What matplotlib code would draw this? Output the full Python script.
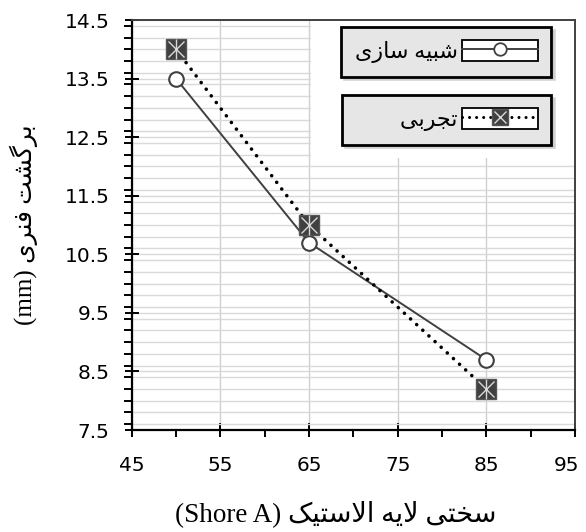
import matplotlib
matplotlib.use("Agg")
import matplotlib.pyplot as plt
from matplotlib.patches import Rectangle
from matplotlib.lines import Line2D
from matplotlib.ticker import MultipleLocator
from matplotlib.transforms import ScaledTranslation

# data
hardness = [50, 65, 85]
sim_values = [13.5, 10.7, 8.7]
exp_values = [14.0, 11.0, 8.2]
x_ticks = [45, 55, 65, 75, 85, 95]
y_ticks = [7.5, 8.5, 9.5, 10.5, 11.5, 12.5, 13.5, 14.5]

# matplotlib does no arabic shaping, so pick presentation forms by hand
forms = {
    'ا': ('\ufe8d', '\ufe8e', None, None),
    'ب': ('\ufe8f', '\ufe90', '\ufe91', '\ufe92'),
    'ت': ('\ufe95', '\ufe96', '\ufe97', '\ufe98'),
    'ج': ('\ufe9d', '\ufe9e', '\ufe9f', '\ufea0'),
    'خ': ('\ufea5', '\ufea6', '\ufea7', '\ufea8'),
    'ر': ('\ufead', '\ufeae', None, None),
    'ز': ('\ufeaf', '\ufeb0', None, None),
    'س': ('\ufeb1', '\ufeb2', '\ufeb3', '\ufeb4'),
    'ش': ('\ufeb5', '\ufeb6', '\ufeb7', '\ufeb8'),
    'ف': ('\ufed1', '\ufed2', '\ufed3', '\ufed4'),
    'ل': ('\ufedd', '\ufede', '\ufedf', '\ufee0'),
    'ن': ('\ufee5', '\ufee6', '\ufee7', '\ufee8'),
    'ه': ('\ufee9', '\ufeea', '\ufeeb', '\ufeec'),
    'ک': ('\ufb8e', '\ufb8f', '\ufb90', '\ufb91'),
    'گ': ('\ufb92', '\ufb93', '\ufb94', '\ufb95'),
    'ی': ('\ufbfc', '\ufbfd', '\ufbfe', '\ufbff'),
}


def shape(text):
    out = []
    i = 0
    while i < len(text):
        c = text[i]
        if c not in forms:
            out.append(c)
            i += 1
            continue
        prev = text[i - 1] if i > 0 else None
        jp = prev in forms and forms[prev][2] is not None
        if c == 'ل' and i + 1 < len(text) and text[i + 1] == 'ا':
            out.append('\ufefc' if jp else '\ufefb')
            i += 2
            continue
        nxt = text[i + 1] if i + 1 < len(text) else None
        jn = forms[c][2] is not None and nxt in forms
        f = forms[c]
        if jp and jn:
            out.append(f[3])
        elif jp:
            out.append(f[1])
        elif jn:
            out.append(f[2])
        else:
            out.append(f[0])
        i += 1
    return ''.join(reversed(out))


label_font = ['Liberation Serif', 'DejaVu Sans']
dark = '#404040'
dots = (0, (0.01, 2.3))

fig = plt.figure(figsize=(5.86, 5.32), dpi=100)
ax = fig.add_axes([0.2247, 0.1917, 0.7565, 0.7707])

ax.set_xlim(45, 95)
ax.set_ylim(7.5, 14.5)
ax.set_xticks(x_ticks)
ax.set_yticks(y_ticks)
ax.xaxis.set_minor_locator(MultipleLocator(5))
ax.yaxis.set_minor_locator(MultipleLocator(0.2))

ax.set_axisbelow(True)
ax.grid(axis='x', which='major', color='#d0d0d0', lw=1)
ax.grid(axis='y', which='both', color='#d9d9d9', lw=1)
ax.grid(axis='x', which='minor', visible=False)

# white area behind the legends
ax.add_patch(Rectangle((0.4045, 0.663), 0.5955, 0.337, transform=ax.transAxes,
                       facecolor='white', edgecolor='none', zorder=1))

for s in ['left', 'bottom']:
    ax.spines[s].set_color('black')
    ax.spines[s].set_linewidth(1.6)
for s in ['top', 'right']:
    ax.spines[s].set_color(dark)
    ax.spines[s].set_linewidth(1.4)

ax.tick_params(which='major', direction='inout', length=10, width=1.4, labelsize=14.5)
ax.tick_params(axis='x', which='major', pad=14)
ax.tick_params(axis='y', which='major', pad=11)
ax.tick_params(which='minor', direction='out', length=5, width=1.4)
ax.tick_params(axis='y', which='minor', length=6)

# keep the last x label inside the figure
last = ax.get_xticklabels()[-1]
last.set_transform(last.get_transform() + ScaledTranslation(-6 / 72, 0, fig.dpi_scale_trans))

# simulation
ax.plot(hardness, sim_values, color=dark, lw=1.4, marker='o', ms=10.5,
        mfc='white', mec=dark, mew=1.5, zorder=3)
# experiment
ax.plot(hardness, exp_values, color='black', lw=2.6, linestyle=dots,
        dash_capstyle='round', zorder=3)
ax.plot(hardness, exp_values, linestyle='none', marker='s', ms=15, mfc=dark,
        mec='#555555', mew=1, zorder=4)
ax.plot(hardness, exp_values, linestyle='none', marker='x', ms=11, mec='#d8d8d8',
        mew=1, zorder=5)
ax.plot(hardness, exp_values, linestyle='none', marker='|', ms=14, mec='#d8d8d8',
        mew=1, zorder=5)

ax.set_ylabel('(mm) ' + shape('برگشت فنری'), family=label_font, fontsize=18)
ax.yaxis.set_label_coords(-0.211, 0.5)
ax.set_xlabel('(Shore A) ' + shape('سختی لایه الاستیک'), family=label_font, fontsize=19.5)
ax.xaxis.set_label_coords(0.46, -0.172)

# legends drawn as two boxes
key_box = dict(facecolor='white', edgecolor='black', lw=1.3)
sim_key = (Rectangle((0, 0), 1, 1, **key_box),
           Line2D([], [], color=dark, lw=1.4, marker='o', ms=9, mfc='white', mec=dark, mew=1.3))
exp_key = (Rectangle((0, 0), 1, 1, **key_box),
           Line2D([], [], color='black', lw=2.2, linestyle=dots, dash_capstyle='round'),
           Line2D([], [], linestyle='none', marker='s', ms=12, mfc=dark, mec='#555555'),
           Line2D([], [], linestyle='none', marker='x', ms=9, mec='#d8d8d8', mew=1))

leg_style = dict(loc='upper right', markerfirst=False, handlelength=3.4, handleheight=1.05,
                 handletextpad=0.2, borderpad=0.6, borderaxespad=0, fancybox=False,
                 framealpha=1, facecolor='#e6e6e6', edgecolor='black',
                 shadow={'color': '0.75', 'alpha': 0.6},
                 prop={'family': label_font, 'size': 16})
leg1 = ax.legend([sim_key], [shape('شبیه سازی')], bbox_to_anchor=(0.946, 0.983), **leg_style)
leg1.get_frame().set_linewidth(2)
ax.add_artist(leg1)
leg2 = ax.legend([exp_key], [' ' * 8 + shape('تجربی')], bbox_to_anchor=(0.946, 0.817), **leg_style)
leg2.get_frame().set_linewidth(2)

fig.savefig('out.png', dpi=100)
